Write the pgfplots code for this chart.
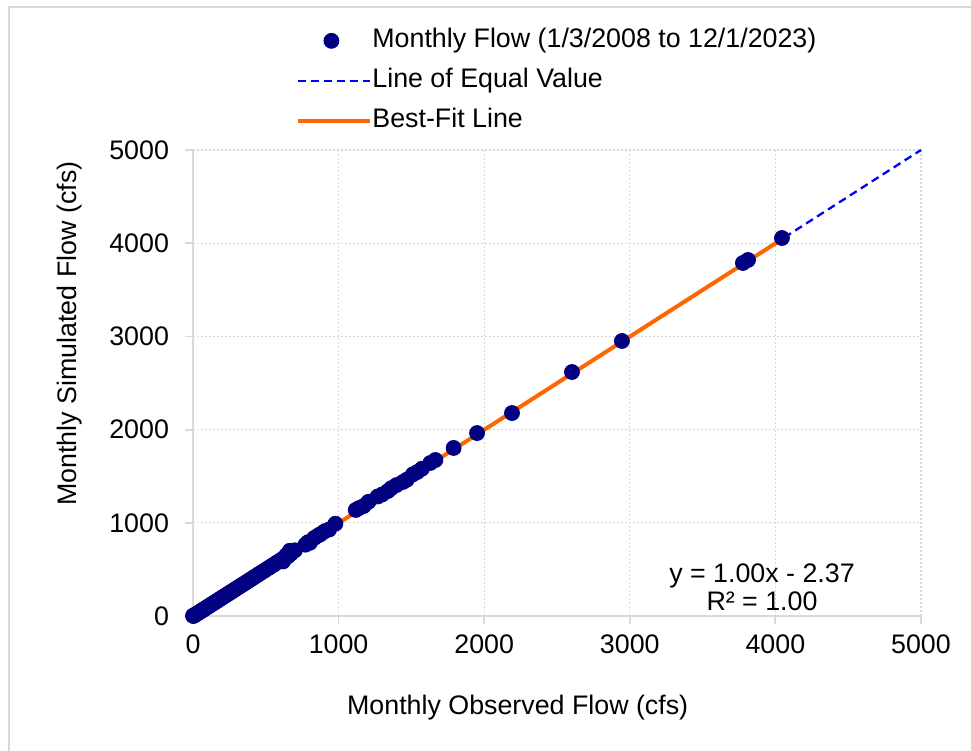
\documentclass[border=0pt]{standalone}
\usepackage{fontspec}
\setmainfont{Liberation Sans}
\usepackage{pgfplots}
\pgfplotsset{compat=1.18}

\definecolor{flownavy}{RGB}{0,0,128}
\definecolor{fitorange}{RGB}{255,102,0}
\definecolor{eqblue}{RGB}{0,0,255}
\definecolor{gridgray}{RGB}{217,217,217}

\pgfplotsset{
    dotlegend/.style={legend image code/.code={
        \path[draw=none,fill=none] (0pt,-4pt) rectangle (36pt,4pt);
        \draw[mark repeat=2,mark phase=2,##1] plot coordinates {(0pt,0pt) (16.5pt,0pt) (33pt,0pt)};}},
    linelegend/.style={legend image code/.code={
        \draw[##1] (0pt,0pt) -- (36pt,0pt);}},
}

\begin{document}
\begin{tikzpicture}[font=\fontsize{13.4}{14}\selectfont]
\useasboundingbox (-96.5pt,-67.5pt) rectangle (389pt,308pt);
\draw[gridgray, line width=1pt] (-92pt,-67.5pt) -- (-92pt,304.5pt) -- (389pt,304.5pt);
\begin{axis}[
    at={(0pt,0pt)}, anchor=south west,
    scale only axis,
    width=364pt, height=233pt,
    xmin=0, xmax=5000, ymin=0, ymax=5000,
    xtick={0,1000,...,5000}, ytick={0,1000,...,5000},
    /pgf/number format/assume math mode=true,
    /pgf/number format/1000 sep={},
    axis x line*=bottom, axis y line*=left,
    axis line style={gridgray, line width=0.9pt},
    tick align=outside,
    major tick length=4pt,
    tick style={gridgray, line width=0.9pt},
    grid=major,
    major grid style={gridgray, line width=0.6pt, dash pattern=on 1pt off 1pt},
    xticklabel style={yshift=-2pt},
    yticklabel style={xshift=-4.5pt},
    xlabel={Monthly Observed Flow (cfs)},
    ylabel={Monthly Simulated Flow (cfs)},
    xlabel style={at={(axis description cs:0.446,-0.197)}, anchor=center},
    ylabel style={at={(axis description cs:-0.169,0.606)}, anchor=center},
    clip=false,
    legend cell align=left,
    legend style={at={(axis description cs:0.1415,1.262)}, anchor=north west,
        draw=none, fill=none, inner sep=0pt, row sep=7.5pt,
        nodes={inner sep=0pt, text height=9.5pt, text depth=3pt}},
    /tikz/every even column/.append style={column sep=2.5pt},
]
\addplot[only marks, mark=*, mark size=3.75pt, color=flownavy, dotlegend] coordinates {
(0,2) (3,1) (6,5) (9,8) (13,11) (17,15) (22,19) (26,24) (31,28) (36,34)
(41,38) (47,44) (53,50) (58,57) (64,61) (70,68) (76,73) (83,81) (89,86) (96,94)
(103,100) (110,108) (117,113) (124,122) (131,128) (139,137) (146,143) (154,151)
(161,158) (169,167) (177,173) (185,183) (193,189) (201,198) (209,207) (218,214)
(226,223) (235,231) (244,242) (253,249) (262,260) (271,267) (281,279) (291,287)
(301,299) (311,307) (322,320) (333,329) (344,342) (356,351) (368,366) (380,376)
(393,391) (406,402) (419,417) (433,429) (447,445) (461,457) (476,474) (491,487)
(507,505) (523,519) (539,537) (556,551) (573,571) (590,586) (608,606) (618,585)
(626,622) (640,650) (652,640) (665,700) (672,668) (688,695) (700,705)
(772,765) (790,792) (803,786) (833,838) (862,866) (878,880) (905,910) (935,928)
(978,990) (1118,1138) (1140,1158) (1172,1180) (1205,1225) (1268,1282) (1300,1305)
(1338,1340) (1362,1372) (1398,1405) (1442,1438) (1468,1462) (1510,1520) (1540,1545)
(1572,1580) (1630,1642) (1665,1674) (1790,1803) (1951,1963) (2191,2178) (2603,2618)
(2946,2951) (3777,3788) (3812,3820) (4045,4056)
};
\addlegendentry{Monthly Flow (1/3/2008 to 12/1/2023)}
\addplot[eqblue, line width=1.15pt, dash pattern=on 4pt off 2.5pt, linelegend]
    coordinates {(0,0) (5000,5000)};
\addlegendentry{Line of Equal Value}
\addplot[fitorange, line width=2pt, linelegend]
    coordinates {(0,-2.37) (4045,4042.63)};
\addlegendentry{Best-Fit Line}
\node[align=center, inner sep=0pt] at (axis cs:3908,311) {y = 1.00x - 2.37\\R² = 1.00};
\end{axis}
\end{tikzpicture}
\end{document}
